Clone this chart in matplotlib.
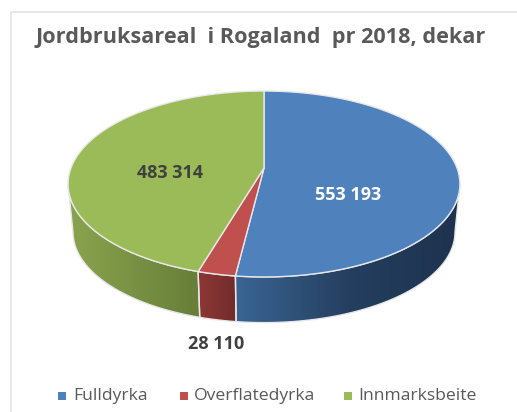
import numpy as np
import matplotlib
matplotlib.use('Agg')
import matplotlib.pyplot as plt
from matplotlib.colors import LinearSegmentedColormap
from matplotlib.lines import Line2D
from matplotlib.patches import Polygon

title = 'Jordbruksareal  i Rogaland  pr 2018, dekar'
categories = ['Fulldyrka', 'Overflatedyrka', 'Innmarksbeite']
values = [553193, 28110, 483314]
value_labels = ['553 193', '28 110', '483 314']
colors = ['#4f81bd', '#c0504d', '#9bbb59']
wall_colors = [['#3a6593', '#253f60', '#1d324e'],
               ['#8e3735', '#712c2b'],
               ['#89a44e', '#687e39']]

W, H = 517, 412
EDGE = '#e8e8e8'

# Perspective of the tilted disc, in pixels
CX, APEX_Y, SX, SY, K = 264, 168, 193, 90.2, 0.172
MID_Y, WALL_SHRINK, WALL_DROP = 184, 0.975, 48


def top_face(deg):
    t = np.radians(deg)
    w = 1 + K * np.sin(t)
    return CX + SX * np.cos(t) / w, APEX_Y - SY * np.sin(t) / w


def bottom_face(deg):
    x, y = top_face(deg)
    return CX + WALL_SHRINK * (x - CX), MID_Y + WALL_SHRINK * (y - MID_Y) + WALL_DROP


plt.rcParams['font.family'] = ['Open Sans', 'DejaVu Sans']
fig = plt.figure(figsize=(W / 100, H / 100), dpi=100)
ax = fig.add_axes([0, 0, 1, 1])

# Wall is only visible between the two silhouette points of the ellipse
limit = np.degrees(np.arcsin(K))
start = 90.0
for value, color, wall in zip(values, colors, wall_colors):
    end = start - 360.0 * value / sum(values)

    deg = np.linspace(start, end, 200)
    x, y = top_face(deg)
    ax.add_patch(Polygon(np.r_[[[CX, APEX_Y]], np.c_[x, y]], closed=True,
                         fc=color, ec=EDGE, lw=1.0, zorder=5))

    a0, a1 = max(end, -180.0 + limit), min(start, -limit)
    start = end
    if a0 >= a1:
        continue
    deg = np.linspace(a0, a1, 100)
    xt, yt = top_face(deg)
    xb, yb = bottom_face(deg)
    pts = np.r_[np.c_[xt, yt], np.c_[xb[::-1], yb[::-1]]]
    poly = Polygon(pts, closed=True, fc='none', ec=EDGE, lw=1.0, zorder=3)
    ax.add_patch(poly)
    cmap = LinearSegmentedColormap.from_list('wall', wall)
    im = ax.imshow(np.linspace(0, 1, 128).reshape(1, -1), cmap=cmap, aspect='auto',
                   extent=(pts[:, 0].min(), pts[:, 0].max(), pts[:, 1].max(), pts[:, 1].min()),
                   zorder=2)
    im.set_clip_path(poly)

# Legend placed by hand, the gaps are not even in the reference
for name, color, mark_x, text_x in zip(categories, colors, [62, 184, 348], [73, 194, 358]):
    ax.scatter([mark_x], [396], marker='s', s=33, color=color, linewidths=0, zorder=6)
    ax.text(text_x, 396, name, ha='left', va='center', fontsize=12.6, color='#595959')

ax.set_xlim(0, W)
ax.set_ylim(H, 0)
ax.set_axis_off()

# Chart frame, open to the right and bottom
fig.add_artist(Line2D([11 / W, 11 / W, 1], [0, 1 - 12 / H, 1 - 12 / H], color='#e4e4e4', lw=1.2))

fig.text(261 / W, 1 - 38 / H, title, ha='center', va='center', fontsize=15.6,
         fontweight='bold', color='#595959')
fig.text(348 / W, 1 - 195 / H, value_labels[0], ha='center', va='center', fontsize=13,
         fontweight='bold', color='white')
fig.text(216 / W, 1 - 344 / H, value_labels[1], ha='center', va='center', fontsize=13,
         fontweight='bold', color='#404040')
fig.text(170 / W, 1 - 173 / H, value_labels[2], ha='center', va='center', fontsize=13,
         fontweight='bold', color='#404040')

fig.savefig('out.png', dpi=100)
